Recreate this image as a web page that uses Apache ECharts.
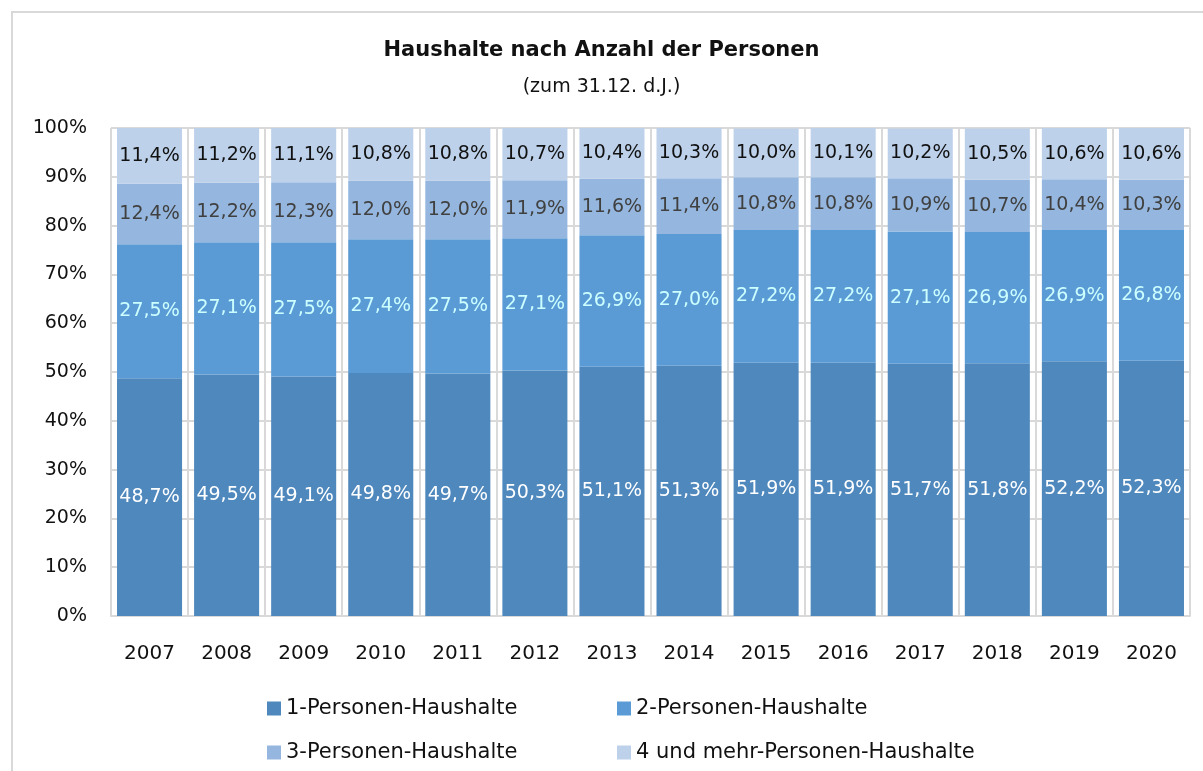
<!DOCTYPE html>
<html>
<head>
<meta charset="utf-8">
<script src="https://cdn.jsdelivr.net/npm/echarts@6/dist/echarts.min.js"></script>
<style>
  html, body { margin: 0; padding: 0; background: #fff; }
  #chart { width: 1203px; height: 771px; }
</style>
</head>
<body>
<div id="chart"></div>
<script>
const years = ['2007', '2008', '2009', '2010', '2011', '2012', '2013', '2014', '2015', '2016', '2017', '2018', '2019', '2020'];
const seriesNames = ['1-Personen-Haushalte', '2-Personen-Haushalte', '3-Personen-Haushalte', '4 und mehr-Personen-Haushalte'];
const pers1 = [48.7, 49.5, 49.1, 49.8, 49.7, 50.3, 51.1, 51.3, 51.9, 51.9, 51.7, 51.8, 52.2, 52.3];
const pers2 = [27.5, 27.1, 27.5, 27.4, 27.5, 27.1, 26.9, 27.0, 27.2, 27.2, 27.1, 26.9, 26.9, 26.8];
const pers3 = [12.4, 12.2, 12.3, 12.0, 12.0, 11.9, 11.6, 11.4, 10.8, 10.8, 10.9, 10.7, 10.4, 10.3];
const pers4 = [11.4, 11.2, 11.1, 10.8, 10.8, 10.7, 10.4, 10.3, 10.0, 10.1, 10.2, 10.5, 10.6, 10.6];

const font = 'DejaVu Sans';
const colors = ['#4f88bd', '#5b9bd5', '#95b7df', '#bdd1ea'];
const labelColors = ['#ffffff', '#ccffff', '#404040', '#111111'];
const values = [pers1, pers2, pers3, pers4];

const fmt = function (p) {
  return p.value.toFixed(1).replace('.', ',') + '%';
};

const myChart = echarts.init(document.getElementById('chart'));

const series = values.map(function (data, i) {
  return {
    name: seriesNames[i],
    type: 'bar',
    stack: 'total',
    barCategoryGap: '15.6%',
    data: data,
    itemStyle: { color: colors[i] },
    label: {
      show: true,
      position: 'inside',
      formatter: fmt,
      color: labelColors[i],
      fontFamily: font,
      fontSize: 19
    }
  };
});

// one legend per item so the 2x2 layout matches
const legendPos = [[262, 693], [612, 693], [262, 737], [612, 737]];
const legends = seriesNames.map(function (name, i) {
  return {
    data: [name],
    left: legendPos[i][0],
    top: legendPos[i][1],
    icon: 'rect',
    itemWidth: 14,
    itemHeight: 14,
    itemGap: 4,
    textStyle: { fontFamily: font, fontSize: 21, color: '#111' }
  };
});

const option = {
  animation: false,
  title: [
    {
      text: 'Haushalte nach Anzahl der Personen',
      left: 'center',
      top: 35,
      textStyle: { fontFamily: font, fontSize: 21, fontWeight: 'bold', color: '#111' }
    },
    {
      text: '(zum 31.12. d.J.)',
      left: 'center',
      top: 73,
      textStyle: { fontFamily: font, fontSize: 19, fontWeight: 'normal', color: '#111' }
    }
  ],
  graphic: [
    {
      type: 'rect',
      shape: { x: 12, y: 12, width: 1300, height: 900 },
      style: { fill: 'none', stroke: '#d9d9d9', lineWidth: 2 },
      silent: true
    }
  ],
  legend: legends,
  grid: { left: 111, right: 13, top: 128, bottom: 155 },
  xAxis: {
    type: 'category',
    data: years,
    axisLine: { lineStyle: { color: '#d9d9d9', width: 2 } },
    axisTick: { show: false },
    splitLine: { show: true, lineStyle: { color: '#d9d9d9', width: 2 } },
    axisLabel: { fontFamily: font, fontSize: 20, color: '#111', margin: 28 }
  },
  yAxis: {
    type: 'value',
    min: 0,
    max: 100,
    interval: 10,
    axisLine: { show: false },
    axisTick: { show: false },
    splitLine: { lineStyle: { color: '#d9d9d9', width: 2 } },
    axisLabel: { formatter: '{value}%', fontFamily: font, fontSize: 19, color: '#111', margin: 24 }
  },
  series: series
};

myChart.setOption(option);
</script>
</body>
</html>
